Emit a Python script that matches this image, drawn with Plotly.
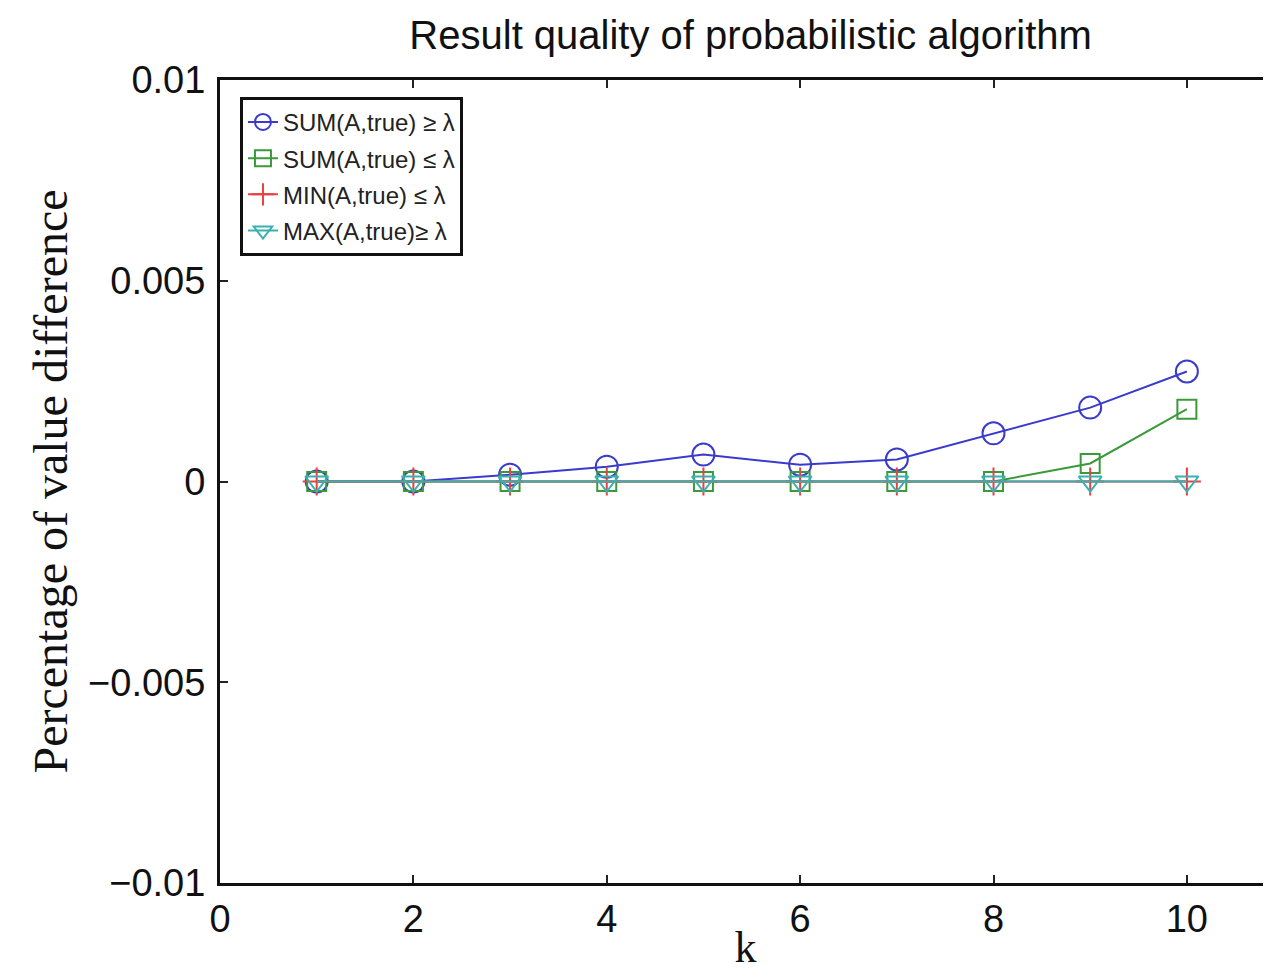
import plotly.graph_objects as go

k = [1, 2, 3, 4, 5, 6, 7, 8, 9, 10]
sum_ge = [0, 0, 0.00017, 0.00037, 0.00067, 0.00042, 0.00055, 0.0012, 0.00184, 0.00274]
sum_le = [0, 0, 0, 0, 0, 0, 0, 0, 0.00045, 0.0018]
min_le = [0, 0, 0, 0, 0, 0, 0, 0, 0, 0]
max_ge = [0, 0, 0, 0, 0, 0, 0, 0, 0, 0]

names = ["SUM(A,true) ≥ λ", "SUM(A,true) ≤ λ", "MIN(A,true) ≤ λ", "MAX(A,true)≥ λ"]
series = [sum_ge, sum_le, min_le, max_ge]
colors = ["#3a3acc", "#3a9a3a", "#e84040", "#3ab0b0"]
symbols = ["circle-open", "square-open", "cross-thin-open", "triangle-down-open"]
sizes = [22, 19, 20, 20]

ytick_vals = [-0.01, -0.005, 0, 0.005, 0.01]
ytick_text = ["−0.01", "−0.005", "0", "0.005", "0.01"]
xtick_vals = [0, 2, 4, 6, 8, 10]

fig = go.Figure()
for i, (nm, ys) in enumerate(zip(names, series)):
    fig.add_trace(go.Scatter(
        x=k, y=ys, name=nm, mode="lines+markers", legendgroup=f"g{i}",
        line=dict(color=colors[i], width=2),
        marker=dict(symbol=symbols[i], size=sizes[i], color=colors[i],
                    line=dict(color=colors[i], width=2)),
    ))

fig.update_layout(
    width=1263, height=964,
    margin=dict(l=212, r=0, t=72, b=89),
    plot_bgcolor="white", paper_bgcolor="white",
    title=dict(text="Result quality of probabilistic algorithm",
               x=0.588, xanchor="center", y=0.972, yanchor="middle",
               font=dict(family="Liberation Sans, Arial", size=40, color="#111")),
    xaxis=dict(range=[0, 10.87], tickvals=xtick_vals, ticks="inside", ticklen=8,
               tickwidth=2, tickcolor="#222", showline=True, linecolor="#111", linewidth=3,
               mirror="ticks", showgrid=False, zeroline=False, automargin=False,
               tickfont=dict(family="Liberation Sans, Arial", size=38, color="#111"),
               title=dict(text="k", standoff=20,
                          font=dict(family="Liberation Serif, Times New Roman, serif", size=44, color="#111"))),
    yaxis=dict(range=[-0.01, 0.01], tickvals=ytick_vals, ticktext=ytick_text,
               ticks="inside", ticklen=8, tickwidth=2, tickcolor="#222",
               showline=True, linecolor="#111", linewidth=3, showgrid=False, zeroline=False,
               ticklabelstandoff=4, automargin=False,
               tickfont=dict(family="Liberation Sans, Arial", size=38, color="#111"),
               title=dict(text="Percentage of value difference", standoff=6,
                          font=dict(family="Liberation Serif, Times New Roman, serif", size=48, color="#111"))),
    legend=dict(x=0.019, y=0.979, xanchor="left", yanchor="top",
                bgcolor="white", bordercolor="#111", borderwidth=3,
                tracegroupgap=2, traceorder="grouped",
                font=dict(family="Liberation Sans, Arial", size=24, color="#222")),
)

fig.write_html("out.html")
